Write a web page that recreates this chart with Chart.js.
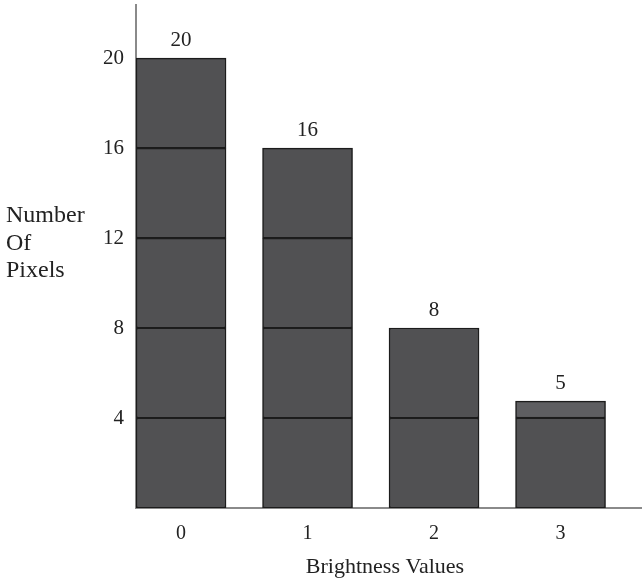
<!DOCTYPE html>
<html>
<head>
<meta charset="utf-8">
<script src="https://cdn.jsdelivr.net/npm/chart.js@4"></script>
<style>
  html, body { margin: 0; padding: 0; background: #fff; }
  #wrap { width: 642px; height: 582px; }
</style>
</head>
<body>
<div id="wrap"><canvas id="histogram"></canvas></div>
<script>
// chart data
const categories = ['0', '1', '2', '3'];
const counts = [20, 16, 8, 4.75];          // bar heights as drawn
const countLabels = ['20', '16', '8', '5']; // numbers printed above bars
const yTicks = [4, 8, 12, 16, 20];
const yTitle = ['Number', 'Of', 'Pixels'];
const xTitle = 'Brightness Values';

const step = 4; // bars are drawn as blocks of one tick step
const font = 'Liberation Serif, Times New Roman, serif';
const barFill = '#515153';
const partFill = '#5e5e61';

// split each bar into blocks so the inner lines line up with the ticks
const levels = Math.ceil(Math.max(...counts) / step);
const datasets = [];
for (let i = 0; i < levels; i++) {
    datasets.push({
        data: counts.map((v, j) => {
            const h = Math.min(Math.max(v - i * step, 0), step);
            return h > 0 ? { x: j, y: h } : { x: j, y: null };
        }),
        backgroundColor: ctx => (ctx.raw && ctx.raw.y < step) ? partFill : barFill,
        borderColor: '#1c1c1c',
        borderWidth: 1.5,
        borderSkipped: false,
        barThickness: 90
    });
}

const textPlugin = {
    id: 'textPlugin',
    afterDatasetsDraw(chart) {
        const { ctx, scales } = chart;
        ctx.save();
        ctx.fillStyle = '#222';
        ctx.font = '21px ' + font;
        ctx.textAlign = 'center';
        ctx.textBaseline = 'alphabetic';
        counts.forEach((v, j) => {
            ctx.fillText(countLabels[j], scales.x.getPixelForValue(j), scales.y.getPixelForValue(v) - 12);
        });
        // y title, left aligned, three lines
        ctx.font = '24px ' + font;
        ctx.textAlign = 'left';
        yTitle.forEach((t, i) => ctx.fillText(t, 6, 222 + i * 27.5));
        // x title
        ctx.font = '22px ' + font;
        ctx.textAlign = 'center';
        ctx.fillText(xTitle, 385, 573);
        ctx.restore();
    }
};

new Chart(document.getElementById('histogram'), {
    type: 'bar',
    data: { labels: categories, datasets: datasets },
    options: {
        responsive: true,
        maintainAspectRatio: false,
        animation: false,
        layout: { padding: { top: 5, left: 0, right: 0, bottom: 0 } },
        plugins: { legend: { display: false }, tooltip: { enabled: false } },
        scales: {
            x: {
                type: 'linear',
                stacked: true,
                offset: false,
                min: -0.356,
                max: 3.644,
                afterBuildTicks: s => { s.ticks = categories.map((c, i) => ({ value: i })); },
                afterFit: s => { s.height = 74; s.paddingLeft = 0; s.paddingRight = 0; },
                grid: { display: false, drawTicks: false, offset: false },
                border: { display: true, color: '#8a8a8a', width: 2 },
                ticks: {
                    padding: 14,
                    color: '#222',
                    font: { family: font, size: 20 },
                    callback: v => categories[v]
                }
            },
            y: {
                stacked: true,
                min: 0,
                max: 22.36,
                afterBuildTicks: s => { s.ticks = yTicks.map(v => ({ value: v })); },
                afterFit: s => { s.width = 136; s.paddingTop = 0; s.paddingBottom = 0; },
                grid: { display: false, drawTicks: false },
                border: { display: true, color: '#8a8a8a', width: 2 },
                ticks: {
                    padding: 12,
                    color: '#222',
                    font: { family: font, size: 21 }
                }
            }
        }
    },
    plugins: [textPlugin]
});
</script>
</body>
</html>
